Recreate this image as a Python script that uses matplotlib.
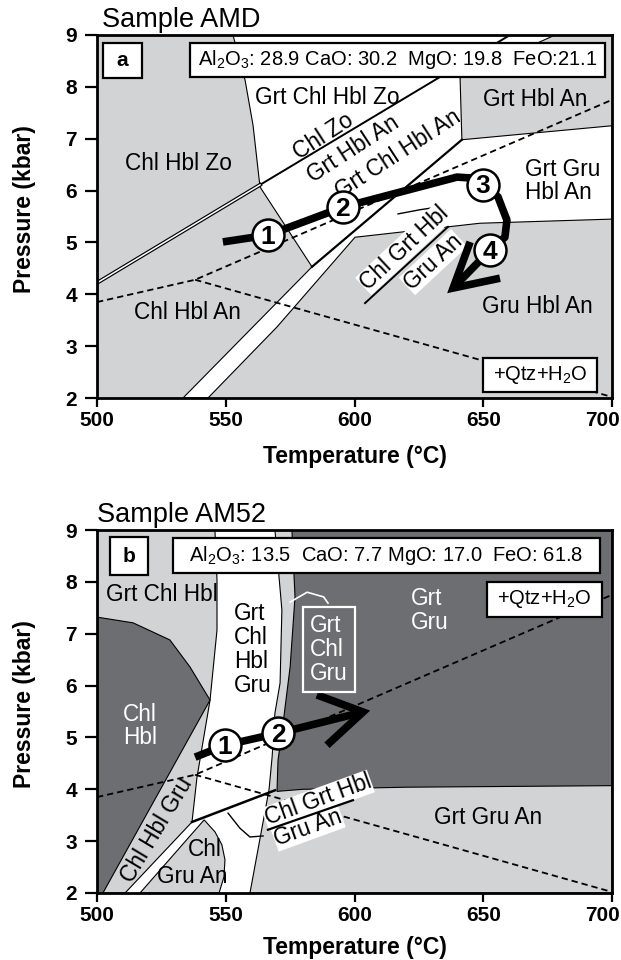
#!/usr/bin/env python3
# -*- coding: utf-8 -*-
"""
P-T pseudosections for samples AMD and AM52
"""

import matplotlib
matplotlib.use('Agg')
import matplotlib.pyplot as plt
from matplotlib.patches import Polygon, Rectangle
from matplotlib.transforms import ScaledTranslation

plt.rcParams['font.family'] = ['Liberation Sans', 'DejaVu Sans']
plt.rcParams['mathtext.fontset'] = 'custom'
plt.rcParams['mathtext.rm'] = 'Liberation Sans'
plt.rcParams['mathtext.it'] = 'Liberation Sans:italic'
plt.rcParams['mathtext.bf'] = 'Liberation Sans:bold'

LIGHT = '#d1d3d4'
DARK = '#6d6e71'

# axes
t_ticks = [500, 550, 600, 650, 700]
p_ticks = [2, 3, 4, 5, 6, 7, 8, 9]

# dashed reference lines (same in both panels), (T, P)
dash_up = [(500, 3.85), (538.1, 4.28), (700, 7.75)]
dash_down = [(538.1, 4.28), (700, 2.02)]

# ---- panel a: sample AMD ----
a_white = [(552.8, 9), (677.9, 9), (641.0, 8.17), (641.7, 6.98), (700, 7.25),
           (700, 5.45), (648.7, 5.37), (600.2, 5.10), (569.9, 3.37), (543.1, 2.0),
           (533.4, 2.0), (583.5, 4.53), (563.3, 6.07), (560.6, 7.26), (557.5, 8.13)]
a_chlzo_band = [(500, 4.22), (563.3, 6.11)]
a_line_zo = [(563.3, 6.11), (660.4, 9)]
a_thick = [(641.7, 6.98), (583.5, 4.53)]
a_leader = [(616.9, 5.55), (625.4, 5.63), (632.0, 5.68), (635.1, 5.63), (636.3, 5.49)]
a_path = [(548.9, 5.01), (566.4, 5.14), (595.5, 5.68), (639.8, 6.26), (646.0, 6.24),
          (649.9, 6.11), (655.7, 5.88), (659.2, 5.43), (658.4, 5.10), (652.6, 4.85),
          (638.3, 4.12)]
a_arrow = [(644.9, 5.01), (638.3, 4.12), (656.5, 4.31)]
a_circle_T = [566.4, 595.5, 649.9, 652.6]
a_circle_P = [5.14, 5.68, 6.11, 4.85]
a_circle_lab = ['1', '2', '3', '4']
a_frac_line = [(604.1, 3.83), (636.3, 5.30)]

# ---- panel b: sample AM52 ----
b_left_light = [(500, 9), (545.8, 9), (546.6, 8.04), (546.6, 7.07), (543.9, 5.72),
                (538.8, 4.22), (536.9, 3.37), (510.9, 2.0), (500, 2.0)]
b_chl_hbl = [(500, 7.32), (514.0, 7.21), (528.3, 6.88), (536.1, 6.36), (543.9, 5.72),
             (502.3, 2.0), (500, 2.0)]
b_chl_gru_an = [(516.7, 2.0), (541.6, 3.41), (545.8, 3.18), (548.5, 2.93), (549.7, 2.64),
                (549.3, 2.31), (547.4, 2.0)]
b_right_light = [(569.1, 9), (571.8, 7.46), (571.1, 6.05), (569.1, 5.47), (568.0, 4.62),
                 (566.8, 3.99), (559.4, 2.0), (700, 2.0), (700, 9)]
b_dark = [(575.7, 9), (576.9, 7.71), (575.0, 6.36), (571.8, 5.09), (570.3, 4.56),
          (569.9, 3.96), (580, 4.0), (620, 4.04), (700, 4.07), (700, 9)]
b_reaction = [(536.9, 3.37), (569.1, 3.98)]
b_hook = [(550.9, 3.54), (555.5, 3.25), (559.4, 3.08), (564.5, 3.10)]
b_white_leader = [(575.0, 7.61), (581.6, 7.80), (588.0, 7.71), (589.7, 7.59)]
b_path = [(538.1, 4.62), (549.7, 4.85), (570.3, 5.08), (603.3, 5.49)]
b_arrow = [(585.4, 5.82), (603.3, 5.49), (589.3, 4.85)]
b_circle_T = [549.7, 570.3]
b_circle_P = [4.85, 5.08]
b_circle_lab = ['1', '2']
b_frac_line = [(566.4, 3.22), (599.4, 3.79)]

LABEL_FS = 16.3


def poly(ax, pts, color, ec='black', lw=0.8, z=1):
    ax.add_patch(Polygon(pts, closed=True, fc=color, ec=ec, lw=lw, zorder=z))


def line(ax, pts, lw=0.8, color='black', z=3, **kw):
    T, P = zip(*pts)
    ax.plot(T, P, color=color, lw=lw, zorder=z, **kw)


def label(ax, t, p, s, **kw):
    kw.setdefault('fontsize', LABEL_FS)
    kw.setdefault('multialignment', 'left')
    kw.setdefault('linespacing', 1.0)
    ax.text(t, p, s, ha='center', va='center', **kw)


def box(ax, t0, t1, p0, p1, text, fs=14.5, weight='normal', ec='black', tc='black',
        fc='white'):
    ax.add_patch(Rectangle((t0, p0), t1 - t0, p1 - p0, fc=fc, ec=ec, lw=1.6, zorder=8))
    ax.text((t0 + t1) / 2, (p0 + p1) / 2, text, ha='center', va='center', fontsize=fs,
            fontweight=weight, color=tc, zorder=9)


def draw_path(ax, path, arrow, cT, cP, labs):
    line(ax, path, lw=5.5, z=5, solid_capstyle='butt', solid_joinstyle='round')
    line(ax, arrow, lw=5.5, z=5, solid_capstyle='butt', solid_joinstyle='miter')
    ax.plot(cT, cP, 'o', ms=23, mfc='white', mec='black', mew=1.8, zorder=6)
    for t, p, s in zip(cT, cP, labs):
        ax.text(t, p - 0.03, s, ha='center', va='center', fontsize=19,
                fontweight='bold', zorder=7)


def style_axes(ax, xlabel_y):
    ax.set_xlim(500, 700)
    ax.set_ylim(2, 9)
    ax.set_xticks(t_ticks)
    ax.set_yticks(p_ticks)
    for s in ax.spines.values():
        s.set_linewidth(2)
        s.set_zorder(20)
    ax.tick_params(axis='x', direction='out', length=6.5, width=1.6, labelsize=15, pad=3)
    ax.tick_params(axis='y', direction='out', length=8.5, width=1.6, labelsize=15, pad=6)
    for lab in ax.get_xticklabels() + ax.get_yticklabels():
        lab.set_fontweight('bold')
    # last temperature label is pulled inside the figure, as in the original
    last = ax.get_xticklabels()[-1]
    last.set_ha('right')
    last.set_transform(last.get_transform() + ScaledTranslation(8 / 100, 0, fig.dpi_scale_trans))
    ax.set_xlabel('Temperature (°C)', fontsize=16.5, fontweight='bold', va='center')
    ax.xaxis.set_label_coords(0.5, xlabel_y)
    ax.set_ylabel('Pressure (kbar)', fontsize=16.5, fontweight='bold', va='center')
    ax.yaxis.set_label_coords(-0.14, 0.52)


fig = plt.figure(figsize=(6.21, 9.6), dpi=100)
ax_a = fig.add_axes([97 / 621, (960 - 398) / 960, 515 / 621, 363 / 960])
ax_b = fig.add_axes([97 / 621, (960 - 893) / 960, 515 / 621, 363 / 960])

# ===================== panel a =====================
ax = ax_a
ax.set_facecolor(LIGHT)
poly(ax, a_white, 'white')
line(ax, a_chlzo_band, lw=2.8)
line(ax, a_chlzo_band, lw=1.1, color='white', z=3.1)
line(ax, a_line_zo, lw=1.4)
line(ax, a_thick, lw=1.6)
line(ax, a_leader, lw=1.0)
for d in (dash_up, dash_down):
    line(ax, d, lw=1.3, z=4, dashes=(3.5, 2.2))

label(ax, 531.5, 6.53, 'Chl Hbl Zo')
label(ax, 589.3, 7.79, 'Grt Chl Hbl Zo')
label(ax, 670.1, 7.75, 'Grt Hbl An')
label(ax, 681.0, 6.18, 'Grt Gru\nHbl An')
label(ax, 587.8, 7.05, 'Chl Zo', rotation=33)
label(ax, 599.5, 6.80, 'Grt Hbl An', rotation=33)
label(ax, 617.0, 6.70, 'Grt Chl Hbl An', rotation=33)
label(ax, 535.3, 3.64, 'Chl Hbl An')
label(ax, 670.9, 3.76, 'Gru Hbl An')
label(ax, 619.4, 4.89, 'Chl Grt Hbl', rotation=43, zorder=4.5,
      bbox=dict(fc='white', ec='none', pad=0.3))
label(ax, 630.5, 4.62, 'Gru An', rotation=43, zorder=4.5,
      bbox=dict(fc='white', ec='none', pad=0.3))
line(ax, a_frac_line, lw=1.4, z=4.6)

draw_path(ax, a_path, a_arrow, a_circle_T, a_circle_P, a_circle_lab)

box(ax, 502.3, 517.5, 8.17, 8.85, 'a', fs=15, weight='bold')
box(ax, 536.1, 697.3, 8.19, 8.85, r'Al$_2$O$_3$: 28.9 CaO: 30.2  MgO: 19.8  FeO:21.1')
box(ax, 649.9, 694.2, 2.12, 2.77, r'+Qtz+H$_2$O')
style_axes(ax, -0.16)

# ===================== panel b =====================
ax = ax_b
ax.set_facecolor('white')
poly(ax, b_left_light, LIGHT)
poly(ax, b_chl_hbl, DARK)
poly(ax, b_chl_gru_an, LIGHT)
poly(ax, b_right_light, LIGHT)
poly(ax, b_dark, DARK)
line(ax, b_reaction, lw=1.8)
line(ax, b_hook, lw=1.0)
line(ax, b_white_leader, lw=1.2, color='white')
for d in (dash_up, dash_down):
    line(ax, d, lw=1.3, z=4, dashes=(3.5, 2.2))

label(ax, 525.2, 7.75, 'Grt Chl Hbl')
label(ax, 560.6, 6.69, 'Grt\nChl\nHbl\nGru', linespacing=1.05)
label(ax, 516.7, 5.22, 'Chl\nHbl', color='white', linespacing=1.05)
label(ax, 629.3, 7.44, 'Grt\nGru', color='white', linespacing=1.05)
ax.add_patch(Rectangle((580.0, 5.88), 20.2, 1.64, fc='none', ec='white', lw=1.6, zorder=8))
label(ax, 590.1, 6.70, 'Grt\nChl\nGru', color='white', linespacing=1.05, zorder=9)
label(ax, 523.3, 3.21, 'Chl Hbl Gru', rotation=59)
label(ax, 541.9, 2.83, 'Chl')
label(ax, 536.9, 2.31, 'Gru An')
label(ax, 651.8, 3.45, 'Grt Gru An')
label(ax, 585.8, 3.79, 'Chl Grt Hbl', rotation=20, zorder=4.5,
      bbox=dict(fc='white', ec='none', pad=0.3))
label(ax, 582.0, 3.25, 'Gru An', rotation=20, zorder=4.5,
      bbox=dict(fc='white', ec='none', pad=0.3))
line(ax, b_frac_line, lw=1.6, z=4.6)

draw_path(ax, b_path, b_arrow, b_circle_T, b_circle_P, b_circle_lab)

box(ax, 505.0, 519.8, 8.13, 8.86, 'b', fs=15, weight='bold')
box(ax, 529.5, 695.3, 8.17, 8.85, r'Al$_2$O$_3$: 13.5  CaO: 7.7 MgO: 17.0  FeO: 61.8')
box(ax, 651.5, 696.1, 7.32, 8.0, r'+Qtz+H$_2$O')
style_axes(ax, -0.149)

fig.text(102 / 621, 1 - 20 / 960, 'Sample AMD', fontsize=19.5, ha='left', va='center')
fig.text(97 / 621, 1 - 515 / 960, 'Sample AM52', fontsize=19.5, ha='left', va='center')

fig.savefig('out.png', dpi=100)
